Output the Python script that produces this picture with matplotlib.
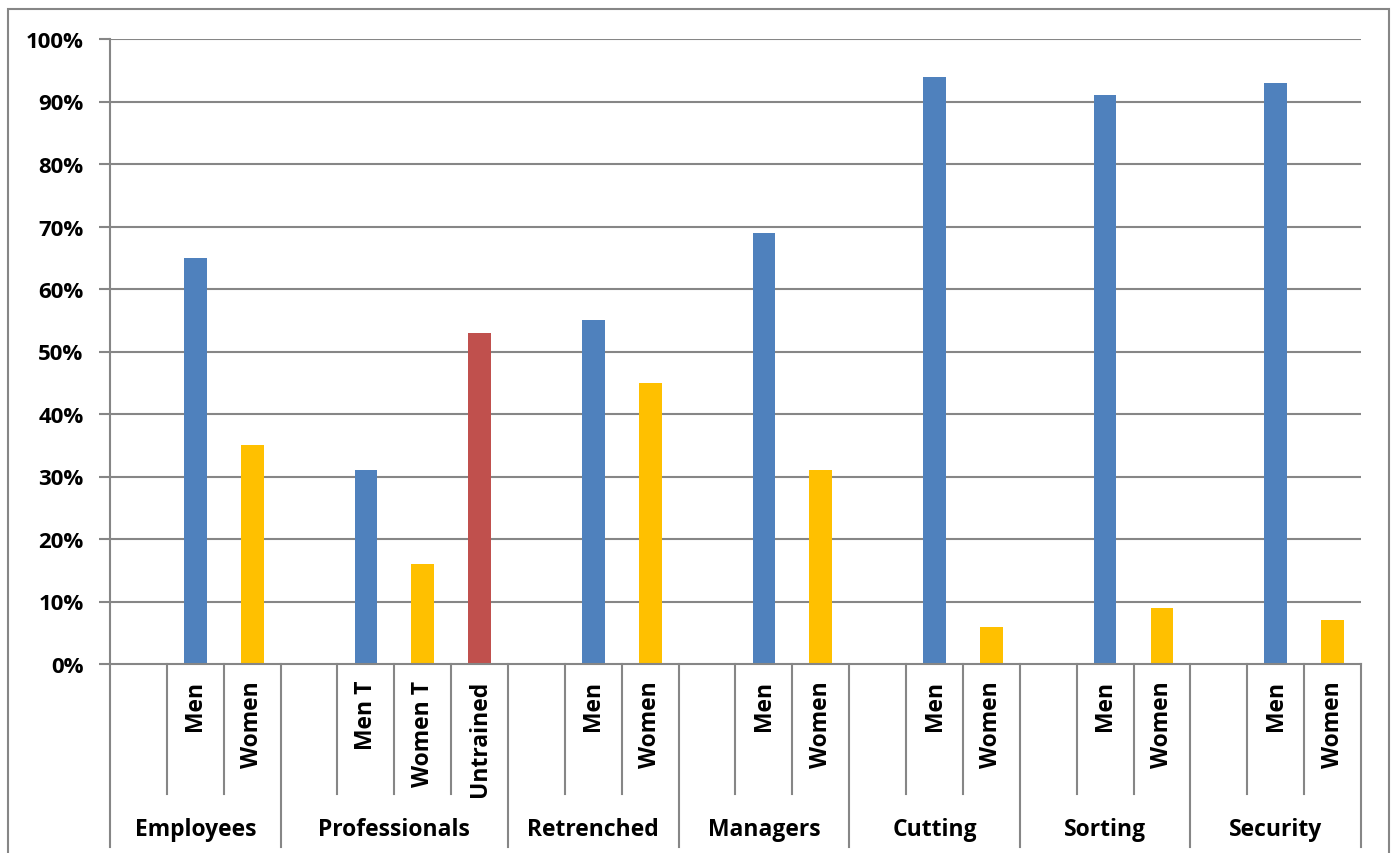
import matplotlib
matplotlib.use("Agg")
import matplotlib.pyplot as plt
from matplotlib.patches import Rectangle
import matplotlib.transforms as mtransforms

plt.rcParams['font.family'] = ['Open Sans', 'DejaVu Sans']

# groups and their sub-categories (each group starts with an empty slot)
groups = ["Employees", "Professionals", "Retrenched", "Managers", "Cutting", "Sorting", "Security"]
sub_labels = [
    ["Men", "Women"],
    ["Men T", "Women T", "Untrained"],
    ["Men", "Women"],
    ["Men", "Women"],
    ["Men", "Women"],
    ["Men", "Women"],
    ["Men", "Women"],
]
values = [
    [65, 35],
    [31, 16, 53],
    [55, 45],
    [69, 31],
    [94, 6],
    [91, 9],
    [93, 7],
]
bar_colors = {"Men": "#4F81BD", "Men T": "#4F81BD", "Women": "#FFC000",
              "Women T": "#FFC000", "Untrained": "#C0504D"}

W, H = 1392, 854
fig = plt.figure(figsize=(W / 100, H / 100), dpi=100)
fig.patches.append(Rectangle((8 / W, -0.01), (1389 - 8) / W, 1.01 - 10 / H,
                             transform=fig.transFigure, fill=False,
                             edgecolor="#868686", linewidth=1.5))

ax = fig.add_axes([110 / W, (H - 665) / H, (1361 - 110) / W, (665 - 40) / H])

grid_c = "#868686"
FS = 16.5
# build slot positions
xs, hs, cs, labs = [], [], [], []
group_bounds = []
k = 0
for g, subs, vals in zip(groups, sub_labels, values):
    start = k
    k += 1  # empty leading slot
    for s, v in zip(subs, vals):
        xs.append(k + 0.5)
        hs.append(v)
        cs.append(bar_colors[s])
        labs.append(s)
        k += 1
    group_bounds.append((start, k))
n_slots = k

ax.set_xlim(0, n_slots)
ax.set_ylim(0, 100)
for y in range(10, 101, 10):
    ax.axhline(y, color=grid_c, linewidth=1.5, zorder=1)
ax.bar(xs, hs, width=0.4, color=cs, zorder=2)

for sp in ["top", "right", "bottom"]:
    ax.spines[sp].set_visible(False)
ax.spines["left"].set_color(grid_c)
ax.spines["left"].set_linewidth(1.5)
ax.set_xticks([])
ax.set_yticks(range(0, 101, 10))
ax.set_yticklabels([f"{y}%" for y in range(0, 101, 10)], fontsize=16, fontweight="bold")
ax.tick_params(axis="y", length=8, width=1.5, color=grid_c, pad=11)

# category axis drawn below
trans = mtransforms.blended_transform_factory(ax.transData, fig.transFigure)
y0 = (H - 665) / H
y_inner = (H - 795) / H
y_outer = (H - 848) / H
ax.plot([0, n_slots], [y0, y0], transform=trans, color=grid_c, lw=1.5, clip_on=False)
for start, end in group_bounds:
    for b in range(start + 1, end):
        ax.plot([b, b], [y0, y_inner], transform=trans, color=grid_c, lw=1.5, clip_on=False)
for start, end in group_bounds:
    ax.plot([start, start], [y0, y_outer], transform=trans, color=grid_c, lw=1.5, clip_on=False)
ax.plot([n_slots, n_slots], [y0, y_outer], transform=trans, color=grid_c, lw=1.5, clip_on=False)

for x, s in zip(xs, labs):
    ax.text(x, (H - 681) / H, s, transform=trans, rotation=90, ha="center", va="top",
            fontsize=FS, fontweight="bold")
for g, (start, end) in zip(groups, group_bounds):
    ax.text((start + end) / 2, (H - 830) / H, g, transform=trans, ha="center", va="center",
            fontsize=FS, fontweight="bold")

fig.savefig("out.png", dpi=100)
